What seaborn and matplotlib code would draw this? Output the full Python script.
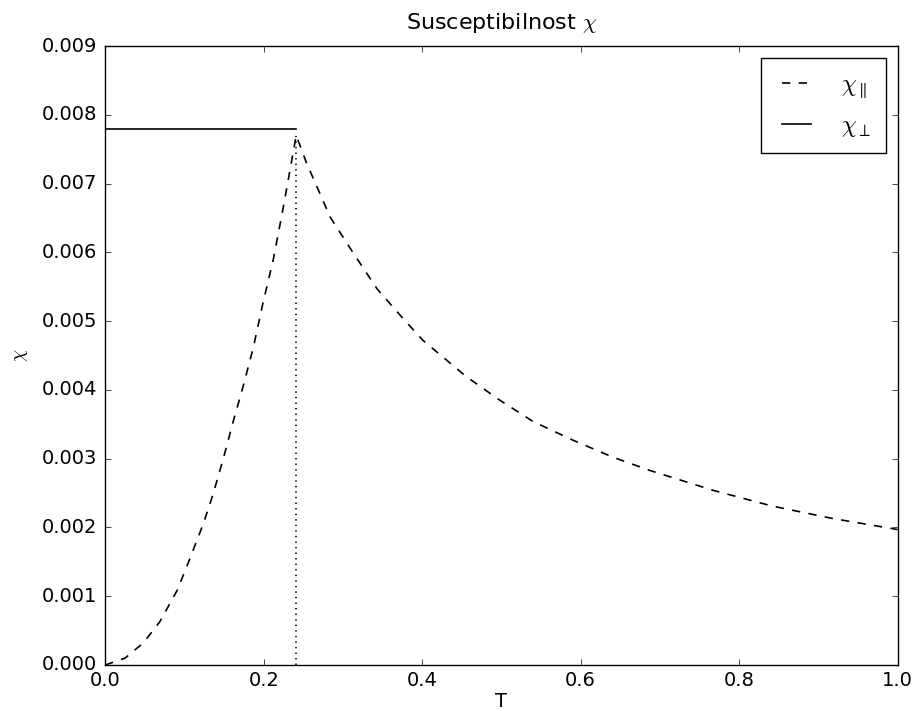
# Susceptibility chi vs T - parallel / perpendicular components
import matplotlib
matplotlib.use("Agg")
import matplotlib.pyplot as plt
import seaborn as sns

# ---------------------------
# data
# ---------------------------
T_par = [0.0, 0.025, 0.048, 0.069, 0.091, 0.107, 0.124, 0.136, 0.149, 0.161,
         0.174, 0.187, 0.199, 0.212, 0.224, 0.237, 0.241, 0.254, 0.270, 0.284,
         0.313, 0.343, 0.378, 0.401, 0.456, 0.498, 0.540, 0.590, 0.641, 0.687,
         0.767, 0.842, 0.918, 1.0]
chi_par = [0.0, 0.00010, 0.00032, 0.00063, 0.00109, 0.00155, 0.00206, 0.00248,
           0.00300, 0.00352, 0.00405, 0.00462, 0.00526, 0.00589, 0.00661, 0.00744,
           0.00770, 0.00730, 0.00688, 0.00651, 0.00599, 0.00547, 0.00501, 0.00472,
           0.00419, 0.00385, 0.00354, 0.00327, 0.00302, 0.00283, 0.00254, 0.00231,
           0.00213, 0.00197]

T_perp = [0.0, 0.241]
chi_perp = [0.0078, 0.0078]

T_c = [0.241, 0.241]
chi_c = [0.0, 0.0077]

# ---------------------------
# classic matplotlib look
# ---------------------------
plt.style.use("classic")
plt.rcParams["figure.facecolor"] = "white"
plt.rcParams["savefig.facecolor"] = "white"
plt.rcParams["font.size"] = 14
plt.rcParams["xtick.labelsize"] = 14
plt.rcParams["ytick.labelsize"] = 14

fig = plt.figure(figsize=(9.15, 7.11), dpi=100)
ax = fig.add_axes([0.115, 0.0647, 0.866, 0.8706])

sns.lineplot(x=T_par, y=chi_par, ax=ax, color="k", linestyle="--", linewidth=1.2,
             label=r"$\chi_{\parallel}$", estimator=None, sort=False)
sns.lineplot(x=T_perp, y=chi_perp, ax=ax, color="k", linestyle="-", linewidth=1.2,
             label=r"$\chi_{\perp}$", estimator=None, sort=False)
sns.lineplot(x=T_c, y=chi_c, ax=ax, color="k", linestyle=":", linewidth=1.2,
             estimator=None, sort=False)

ax.set_xlim(0, 1.0)
ax.set_ylim(0, 0.009)
ax.set_xticks([0.0, 0.2, 0.4, 0.6, 0.8, 1.0])
ax.set_yticks([i * 0.001 for i in range(10)])
ax.set_yticklabels([f"{i * 0.001:.3f}" for i in range(10)])
ax.tick_params(axis="y", pad=6)
ax.set_title(r"Susceptibilnost $\chi$", fontsize=16, pad=12)
ax.set_xlabel("T", fontsize=14, labelpad=2)
ax.set_ylabel(r"$\chi$", fontsize=14, labelpad=8)
ax.legend(loc="upper right", fontsize=17, handletextpad=1.0, handlelength=1.8,
          labelspacing=0.55, borderpad=0.6)

fig.savefig("out.png", dpi=100)
